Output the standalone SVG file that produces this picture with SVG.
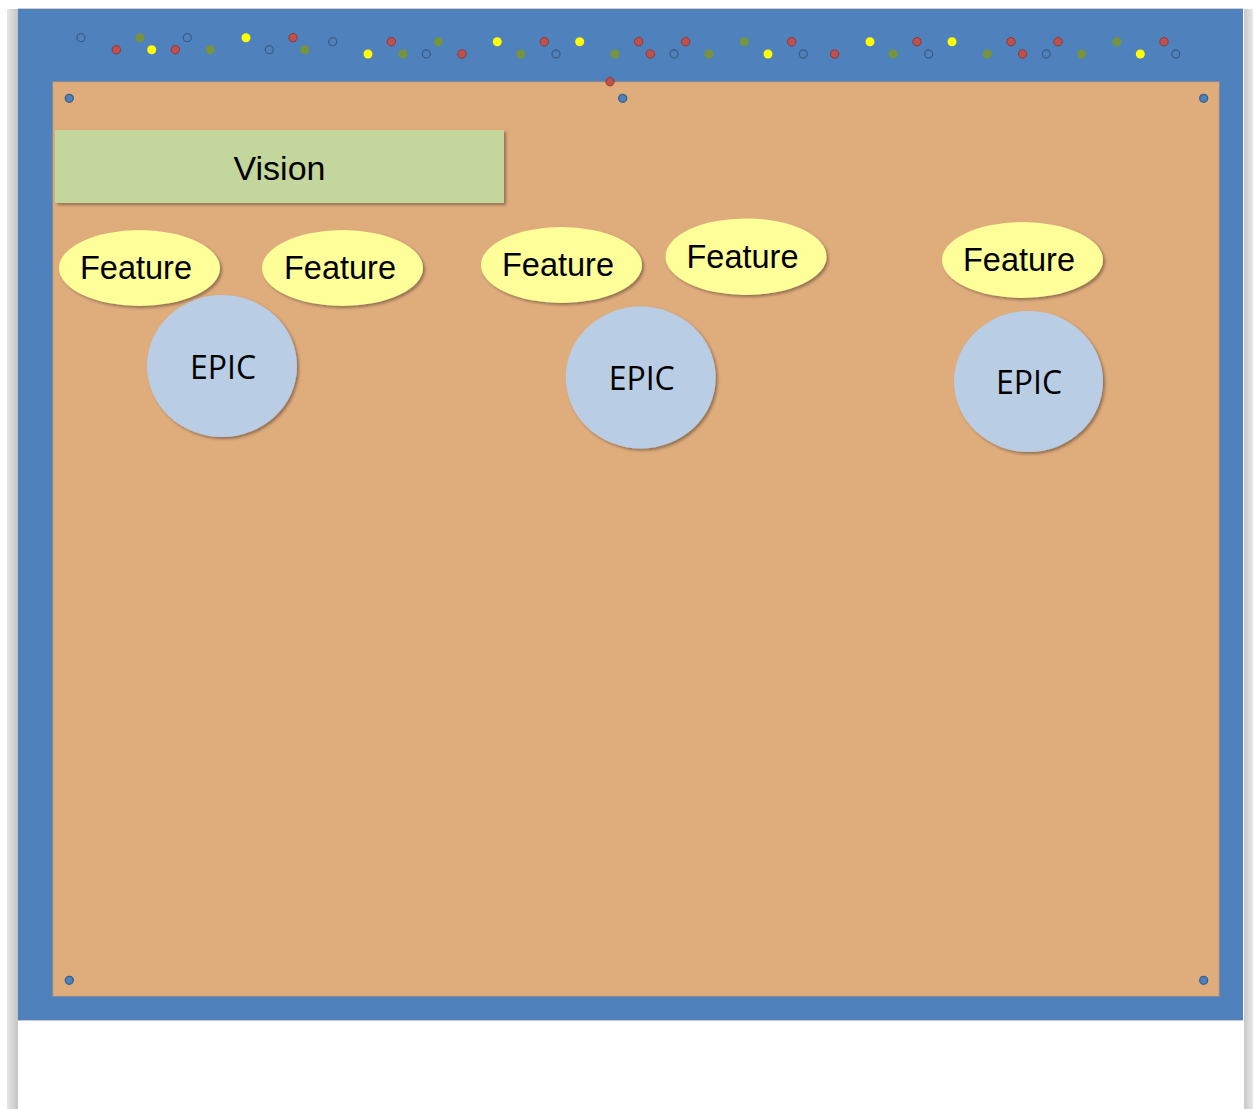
<svg xmlns="http://www.w3.org/2000/svg" width="1253" height="1109" viewBox="0 0 1253 1109">
  <defs>
    <filter id="shadow" x="-10%" y="-10%" width="125%" height="125%">
      <feDropShadow dx="2" dy="2" stdDeviation="1.5" flood-color="#000" flood-opacity="0.35"/>
    </filter>
    <linearGradient id="edgeL" x1="0" y1="0" x2="1" y2="0">
      <stop offset="0" stop-color="#e6e6e6"/>
      <stop offset="1" stop-color="#c4c4c4"/>
    </linearGradient>
    <linearGradient id="edgeR" x1="0" y1="0" x2="1" y2="0">
      <stop offset="0" stop-color="#c8c8c8"/>
      <stop offset="1" stop-color="#e8e8e8"/>
    </linearGradient>
    <style>
      .label { font-family: "Liberation Sans", Arial, sans-serif; fill: #000; text-anchor: middle; }
      .epic-label { font-family: "Open Sans", "Noto Sans", sans-serif; fill: #000; text-anchor: middle; font-size: 32px; }
      .feature { fill: #ffff99; filter: url(#shadow); }
      .epic { fill: #b9cde5; filter: url(#shadow); }
      .pin { fill: #4f81bd; stroke: #385d8a; stroke-width: 1.3; }
      .red { fill: #c0504d; stroke: #8c3836; stroke-width: 1; }
      .green { fill: #77933c; }
      .yellow { fill: #ffff00; }
      .open { fill: none; stroke: #385d8a; stroke-width: 1.3; }
    </style>
  </defs>

  <!-- page background and side edges -->
  <rect x="0" y="0" width="1253" height="1109" fill="#ffffff"/>
  <rect x="7" y="9" width="11" height="1100" fill="url(#edgeL)"/>
  <rect x="1244" y="9" width="9" height="1100" fill="url(#edgeR)"/>
  <line x1="18" y1="8.5" x2="1243" y2="8.5" stroke="#cfcfcf" stroke-width="1"/>

  <!-- board frame -->
  <g id="board">
    <rect x="18" y="9" width="1225" height="1011" fill="#4f81bd"/>
    <line x1="18" y1="1020.5" x2="1243" y2="1020.5" stroke="#c9c9c9" stroke-width="1"/>
    <rect x="53" y="82" width="1166" height="914" fill="#dfac7c" stroke="#d09d6e" stroke-width="0.8"/>
  </g>

  <!-- magnets along the top rail -->
  <g id="rail-dots">
    <circle class="open" cx="81" cy="37.7" r="4"/>
    <circle class="red" cx="116.3" cy="49.7" r="4.2"/>
    <circle class="green" cx="140" cy="37.7" r="4.5"/>
    <circle class="yellow" cx="151.7" cy="49.7" r="4.5"/>
    <circle class="red" cx="175.3" cy="49.7" r="4.2"/>
    <circle class="open" cx="187.3" cy="37.7" r="4"/>
    <circle class="green" cx="210.3" cy="49.7" r="4.5"/>
    <circle class="yellow" cx="246" cy="37.7" r="4.5"/>
    <circle class="open" cx="269.3" cy="49.7" r="4"/>
    <circle class="red" cx="293" cy="37.7" r="4.2"/>
    <circle class="green" cx="304.7" cy="49.7" r="4.5"/>

    <circle class="open" cx="332.7" cy="41.7" r="4"/>
    <circle class="yellow" cx="368" cy="54" r="4.5"/>
    <circle class="red" cx="391.3" cy="41.7" r="4.2"/>
    <circle class="green" cx="403" cy="54" r="4.5"/>
    <circle class="open" cx="426.3" cy="54" r="4"/>
    <circle class="green" cx="438.3" cy="41.7" r="4.5"/>
    <circle class="red" cx="462" cy="54" r="4.2"/>
    <circle class="yellow" cx="497.3" cy="41.7" r="4.5"/>
    <circle class="green" cx="520.7" cy="54" r="4.5"/>
    <circle class="red" cx="544.3" cy="41.7" r="4.2"/>
    <circle class="open" cx="556" cy="54" r="4"/>
    <circle class="yellow" cx="579.7" cy="41.7" r="4.5"/>
    <circle class="green" cx="615" cy="54" r="4.5"/>

    <circle class="red" cx="638.7" cy="41.7" r="4.2"/>
    <circle class="red" cx="650.3" cy="54" r="4.2"/>
    <circle class="open" cx="674" cy="54" r="4"/>
    <circle class="red" cx="685.7" cy="41.7" r="4.2"/>
    <circle class="green" cx="709" cy="54" r="4.5"/>
    <circle class="green" cx="744.3" cy="41.7" r="4.5"/>
    <circle class="yellow" cx="768" cy="54" r="4.5"/>
    <circle class="red" cx="791.7" cy="41.7" r="4.2"/>
    <circle class="open" cx="803.3" cy="54" r="4"/>
    <circle class="red" cx="834.7" cy="54" r="4.2"/>
    <circle class="yellow" cx="870" cy="41.7" r="4.5"/>
    <circle class="green" cx="893.3" cy="54" r="4.5"/>
    <circle class="red" cx="917" cy="41.7" r="4.2"/>
    <circle class="open" cx="928.7" cy="54" r="4"/>

    <circle class="yellow" cx="952" cy="41.7" r="4.5"/>
    <circle class="green" cx="987.3" cy="54" r="4.5"/>
    <circle class="red" cx="1011" cy="41.7" r="4.2"/>
    <circle class="red" cx="1022.7" cy="54" r="4.2"/>
    <circle class="open" cx="1046.3" cy="54" r="4"/>
    <circle class="red" cx="1058" cy="41.7" r="4.2"/>
    <circle class="green" cx="1081.7" cy="54" r="4.5"/>
    <circle class="green" cx="1117" cy="41.7" r="4.5"/>
    <circle class="yellow" cx="1140.3" cy="54" r="4.5"/>
    <circle class="red" cx="1164" cy="41.7" r="4.2"/>
    <circle class="open" cx="1175.7" cy="54" r="4"/>

    <circle class="red" cx="610" cy="81.7" r="4.2"/>
  </g>

  <!-- pins holding the cork sheet -->
  <g id="pins">
    <circle class="pin" cx="69.3" cy="98.3" r="4"/>
    <circle class="pin" cx="622.7" cy="98.3" r="4"/>
    <circle class="pin" cx="1203.7" cy="98.3" r="4"/>
    <circle class="pin" cx="69.3" cy="980.3" r="4"/>
    <circle class="pin" cx="1203.7" cy="980.3" r="4"/>
  </g>

  <g id="vision">
    <rect x="55" y="130" width="449" height="73" fill="#c3d69b" filter="url(#shadow)"/>
    <text class="label" x="279.5" y="180" font-size="34">Vision</text>
  </g>

  <g id="feature-1">
    <ellipse class="feature" cx="139.5" cy="268" rx="80.5" ry="38"/>
    <text class="label" x="136" y="278.5" font-size="32.5">Feature</text>
  </g>
  <g id="feature-2">
    <ellipse class="feature" cx="342.5" cy="268" rx="80.5" ry="38"/>
    <text class="label" x="340" y="278.5" font-size="32.5">Feature</text>
  </g>
  <g id="feature-3">
    <ellipse class="feature" cx="561.5" cy="265" rx="80.5" ry="38"/>
    <text class="label" x="558" y="275.5" font-size="32.5">Feature</text>
  </g>
  <g id="feature-4">
    <ellipse class="feature" cx="746" cy="256.7" rx="80.5" ry="38.3"/>
    <text class="label" x="742.5" y="268.3" font-size="32.5">Feature</text>
  </g>
  <g id="feature-5">
    <ellipse class="feature" cx="1022.5" cy="260" rx="80.5" ry="38"/>
    <text class="label" x="1019" y="271" font-size="32.5">Feature</text>
  </g>

  <g id="epic-1">
    <ellipse class="epic" cx="222" cy="366" rx="75" ry="71"/>
    <text class="epic-label" x="223" y="379">EPIC</text>
  </g>
  <g id="epic-2">
    <ellipse class="epic" cx="640.7" cy="377.5" rx="75" ry="71"/>
    <text class="epic-label" x="641.7" y="390">EPIC</text>
  </g>
  <g id="epic-3">
    <ellipse class="epic" cx="1028.5" cy="381.5" rx="74.5" ry="70.5"/>
    <text class="epic-label" x="1029" y="394">EPIC</text>
  </g>

  <g id="connectors"/>
</svg>
